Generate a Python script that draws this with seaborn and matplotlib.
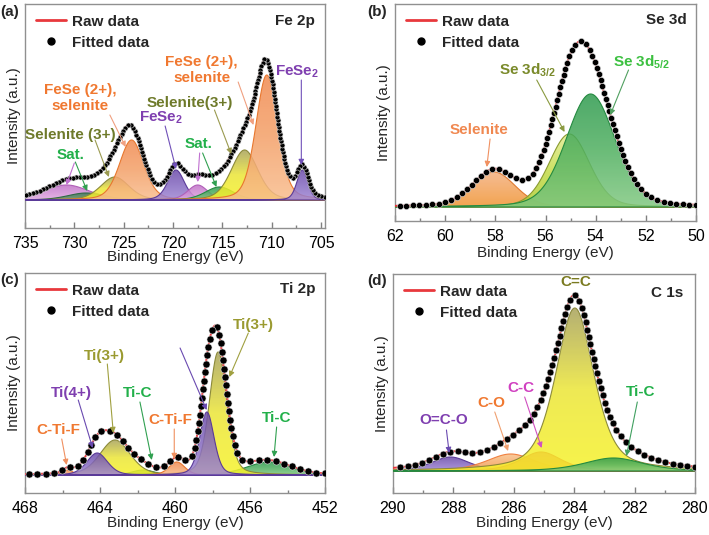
import numpy as np
import pandas as pd
import matplotlib
matplotlib.use('Agg')
import matplotlib.pyplot as plt
import seaborn as sns
from matplotlib.patches import Polygon
from matplotlib.colors import LinearSegmentedColormap
from matplotlib.lines import Line2D
from matplotlib.ticker import MultipleLocator

sns.set_style('ticks')
plt.rcParams['font.family'] = ['Liberation Sans', 'DejaVu Sans']
plt.rcParams['mathtext.fontset'] = 'custom'
plt.rcParams['mathtext.rm'] = 'Liberation Sans'
plt.rcParams['mathtext.bf'] = 'Liberation Sans:bold'
plt.rcParams['mathtext.it'] = 'Liberation Sans:italic'

# ---------------- data: fitted peak components ----------------
# (a) Fe 2p
fe_centers = [730.8, 728.8, 725.9, 724.2, 719.7, 717.5, 715.3, 712.75, 710.5, 706.9]
fe_heights = [15, 7, 23, 60, 30, 15, 13, 50, 125, 30]
fe_fwhm = [5.5, 4.5, 3.4, 2.9, 2.0, 2.4, 3.4, 3.2, 2.6, 1.3]
fe_kinds = ['pink', 'dgreen', 'yellow', 'orange', 'purple', 'pink', 'green', 'yellow', 'orange', 'purple']
# (b) Se 3d
se_centers = [58.05, 55.05, 54.2]
se_heights = [35, 73, 113]
se_fwhm = [2.0, 1.9, 2.3]
se_kinds = ['sorange', 'lime', 'green']
# (c) Ti 2p
ti_centers = [455.0, 461.7, 463.2, 457.7, 465.7, 459.9, 464.15, 458.3]
ti_heights = [13, 5, 35, 123, 5, 13, 22, 63]
ti_fwhm = [2.8, 1.4, 1.9, 1.1, 0.6, 1.0, 1.3, 0.9]
ti_kinds = ['green', 'green', 'yellow', 'yellow', 'orange', 'orange', 'purple', 'purple']
# (d) C 1s
c_centers = [288.1, 286.1, 285.1, 283.98, 282.7]
c_heights = [14, 17, 19, 163, 13]
c_fwhm = [1.5, 1.9, 1.6, 1.5, 2.3]
c_kinds = ['purple', 'lorange', 'red', 'yellow', 'green']

panel_titles = ['Fe 2p', 'Se 3d', 'Ti 2p', 'C 1s']
panel_letters = ['(a)', '(b)', '(c)', '(d)']
x_limits = [(735, 704.6), (62, 50), (468, 452), (290, 280)]
x_major = [5, 2, 4, 2]
x_minor = [2.5, 1, 2, 1]

# (top, middle, bottom, edge)
STY = {
    'orange': ('#f08a50', '#f4a068', '#f8bc8c', '#e8772e'),
    'yellow': ('#a8a25a', '#ece636', '#f6f22a', '#8c8a3a'),
    'purple': ('#6a4aa8', '#8468c0', '#a086d4', '#5a3a98'),
    'green': ('#2e9a4e', '#50b060', '#80c880', '#248a40'),
    'dgreen': ('#3c7a54', '#508a60', '#6aa070', '#2f6a44'),
    'pink': ('#c070c8', '#d08cd4', '#e0a8e0', '#b060b8'),
    'lime': ('#e4ec90', '#c4dc48', '#acca30', '#8a9a30'),
    'lorange': ('#f8c088', '#f6ac6a', '#f49a50', '#f08040'),
    'red': ('#e43a6a', '#ea5250', '#f06a40', '#d83050'),
    'sorange': ('#f4b080', '#f2a258', '#f09430', '#e07a30'),
}

ORANGE_T = '#f07830'
OLIVE_T = '#6e7a2a'
PURPLE_T = '#7f3fb0'
GREEN_T = '#22b04a'


def pv(x, c, h, w, eta):
    g = np.exp(-4 * np.log(2) * (x - c) ** 2 / w ** 2)
    l = 1.0 / (1 + 4 * (x - c) ** 2 / w ** 2)
    return h * (eta * l + (1 - eta) * g)


def grad_fill(ax, x, y, kind, z):
    ctop, cmid, cbot, edge = STY[kind]
    verts = np.column_stack([np.r_[x, x[::-1]], np.r_[y, np.zeros_like(y)]])
    patch = Polygon(verts, closed=True, facecolor='none', edgecolor=edge,
                    lw=0.8, zorder=z + 0.5)
    ax.add_patch(patch)
    cmap = LinearSegmentedColormap.from_list('g', [cbot, cmid, ctop])
    grad = np.linspace(0, 1, 128).reshape(-1, 1)
    im = ax.imshow(grad, extent=[x.min(), x.max(), 0, y.max()], origin='lower',
                   aspect='auto', cmap=cmap, alpha=0.85, zorder=z,
                   interpolation='bilinear')
    im.set_clip_path(patch)


def arc_sample(x, y, ppe, step):
    dx = np.diff(x) * ppe
    dy = np.diff(y)
    s = np.r_[0, np.cumsum(np.hypot(dx, dy))]
    targets = np.arange(0, s[-1], step)
    idx = np.clip(np.searchsorted(s, targets), 0, len(x) - 1)
    return x[idx], y[idx]


def draw_panel(ax, centers, heights, fwhm, kinds, xlim, eta, ppe, step, msize, ylim):
    lo, hi = min(xlim), max(xlim)
    x = np.linspace(lo, hi, 6000)
    total = np.zeros_like(x)
    for i, (c, h, w, k) in enumerate(zip(centers, heights, fwhm, kinds)):
        y = pv(x, c, h, w, eta)
        total += y
        grad_fill(ax, x, y, k, 2 + i)
    df = pd.DataFrame({'be': x, 'raw': total})
    sns.lineplot(data=df, x='be', y='raw', ax=ax, color='#e8383c', lw=1.4,
                 zorder=30, legend=False)
    xs, ys = arc_sample(x, total, ppe, step)
    dfp = pd.DataFrame({'be': xs, 'fit': ys})
    sns.scatterplot(data=dfp, x='be', y='fit', ax=ax, color='black', s=msize,
                    edgecolor='#dddddd', linewidth=0.4, zorder=40, legend=False)
    ax.set_xlim(*xlim)
    ax.set_ylim(*ylim)


fig = plt.figure(figsize=(7.09, 5.35), dpi=100)
W, H = 709, 535
boxes = [(25, 4, 325, 228), (395, 4, 696, 221), (25, 273, 325, 493), (393, 274, 695, 493)]
axes = []
for (l, t, r, b) in boxes:
    axes.append(fig.add_axes([l / W, 1 - b / H, (r - l) / W, (b - t) / H]))

draw_panel(axes[0], fe_centers, fe_heights, fe_fwhm, fe_kinds, x_limits[0], 0.3, 9.89, 3.6, 13, (-28, 196))
draw_panel(axes[1], se_centers, se_heights, se_fwhm, se_kinds, x_limits[1], 0.2, 25.06, 6.5, 20, (-14, 203))
draw_panel(axes[2], ti_centers, ti_heights, ti_fwhm, ti_kinds, x_limits[2], 0.3, 18.75, 8.5, 26, (-18, 202))
draw_panel(axes[3], c_centers, c_heights, c_fwhm, c_kinds, x_limits[3], 0.5, 30.17, 7.5, 24, (-22, 197))

title_pos = [(0.967, 0.925), (0.97, 0.925), (0.967, 0.928), (0.96, 0.912)]
letter_pos = [(0, 12), (367, 12), (0, 280), (367, 281)]
xlabel_pads = [-0.5, 1.5, 0.0, 0.5]
for i, ax in enumerate(axes):
    ax.xaxis.set_major_locator(MultipleLocator(x_major[i]))
    ax.xaxis.set_minor_locator(MultipleLocator(x_minor[i]))
    ax.tick_params(axis='x', which='both', direction='in', top=False, bottom=True,
                   colors='#808080', labelcolor='black', labelsize=11.5, pad=5.5)
    ax.tick_params(axis='x', which='major', length=4, width=1)
    ax.tick_params(axis='x', which='minor', length=2.5, width=1)
    ax.tick_params(axis='y', left=False, labelleft=False)
    for sp in ax.spines.values():
        sp.set_visible(True)
        sp.set_color('#909090')
        sp.set_linewidth(1.0)
    ax.set_xlabel('Binding Energy (eV)', fontsize=11, labelpad=xlabel_pads[i])
    ax.set_ylabel('Intensity (a.u.)', fontsize=11, labelpad=3)
    ax.text(title_pos[i][0], title_pos[i][1], panel_titles[i], transform=ax.transAxes,
            ha='right', va='center', fontsize=11, fontweight='bold', zorder=50)
    handles = [Line2D([0], [0], color='#e8383c', lw=2),
               Line2D([0], [0], marker='o', ls='', color='black', markersize=5)]
    ax.legend(handles, ['Raw data', 'Fitted data'], loc='upper left', frameon=False,
              prop={'weight': 'bold', 'size': 11}, handlelength=2.0,
              handletextpad=0.35, labelspacing=0.45, borderaxespad=0.45, borderpad=0.25)
    lx, ly = letter_pos[i]
    fig.text(lx / W, 1 - ly / H, panel_letters[i], ha='left', va='center',
             fontsize=11, fontweight='bold')

# ---------------- annotations ----------------
def label(ax, txt, xy, color):
    ax.text(xy[0], xy[1], txt, ha='center', va='center', color=color,
            fontsize=11, fontweight='bold', zorder=60, linespacing=1.15)


def arrow(ax, start, tip, color):
    ax.annotate('', xy=tip, xytext=start,
                arrowprops=dict(arrowstyle='-|>', color=color, lw=0.8,
                                mutation_scale=8, shrinkA=0, shrinkB=0), zorder=55)

a, b, c, d = axes
# (a)
label(a, 'FeSe (2+),\nselenite', (717.1, 130), ORANGE_T)
arrow(a, (713.4, 118), (711.85, 75), '#f0a080')
label(a, r'FeSe$_\mathbf{2}$', (707.4, 128), PURPLE_T)
arrow(a, (707.0, 120), (707.0, 35), '#7050b8')
label(a, 'Selenite(3+)', (718.3, 97), OLIVE_T)
arrow(a, (715.8, 90), (714.1, 46), '#9a9a50')
label(a, 'FeSe (2+),\nselenite', (729.4, 102), ORANGE_T)
arrow(a, (726.4, 85), (724.8, 53), '#f0a080')
label(a, r'FeSe$_\mathbf{2}$', (721.2, 82), PURPLE_T)
arrow(a, (720.8, 74), (719.7, 31), '#7050b8')
label(a, 'Selenite (3+)', (730.4, 65), OLIVE_T)
arrow(a, (727.9, 60), (726.5, 23), '#9a9a50')
label(a, 'Sat.', (730.4, 45), GREEN_T)
arrow(a, (730.0, 37), (730.8, 15), '#c070d0')
arrow(a, (729.9, 38), (728.7, 9), '#30a050')
label(a, 'Sat.', (717.4, 56), GREEN_T)
arrow(a, (717.3, 47), (717.5, 18), '#c070d0')
arrow(a, (717.0, 47), (715.6, 13), '#30a050')
# (b)
label(b, 'Selenite', (58.64, 77), '#f08850')
arrow(b, (58.21, 68), (58.34, 40), '#f09060')
label(b, r'Se 3d$_\mathbf{3/2}$', (56.71, 137), '#7a8a2a')
arrow(b, (56.35, 127), (55.24, 75), '#8a9a40')
label(b, r'Se 3d$_\mathbf{5/2}$', (52.16, 145), '#3cc040')
arrow(b, (52.69, 137), (53.42, 92), '#50a060')
# (c)
label(c, 'C-Ti-F', (466.22, 45), ORANGE_T)
arrow(c, (466.04, 36), (465.78, 10), '#f09060')
label(c, 'Ti(4+)', (465.51, 82), PURPLE_T)
arrow(c, (465.16, 75), (464.39, 27), '#6a4ab0')
label(c, 'Ti(3+)', (463.79, 119), '#9a9a30')
arrow(c, (463.61, 111), (463.29, 42), '#a0a040')
label(c, 'Ti-C', (462.01, 82), GREEN_T)
arrow(c, (461.87, 73), (461.24, 15), '#30a050')
label(c, 'C-Ti-F', (460.27, 55), ORANGE_T)
arrow(c, (460.04, 46), (460.04, 16), '#f09060')
arrow(c, (459.73, 127), (458.31, 65), '#6a4ab0')
label(c, 'Ti(3+)', (455.82, 150), '#9a9a30')
arrow(c, (456.09, 142), (457.1, 98), '#a0a040')
label(c, 'Ti-C', (454.58, 57), GREEN_T)
arrow(c, (454.58, 48), (454.72, 18), '#30a050')
# (d)
label(d, 'C=C', (283.96, 189), '#7a7a20')
label(d, 'O=C-O', (288.32, 51), PURPLE_T)
arrow(d, (288.23, 41), (288.14, 18), '#6a4ab0')
label(d, 'C-O', (286.74, 68), ORANGE_T)
arrow(d, (286.63, 59), (286.19, 20), '#f0a070')
label(d, 'C-C', (285.75, 83), '#d040c0')
arrow(d, (285.64, 74), (285.08, 23), '#d050c0')
label(d, 'Ti-C', (281.8, 79), GREEN_T)
arrow(d, (281.91, 69), (282.27, 15), '#40a060')

fig.savefig('out.png', dpi=100)
